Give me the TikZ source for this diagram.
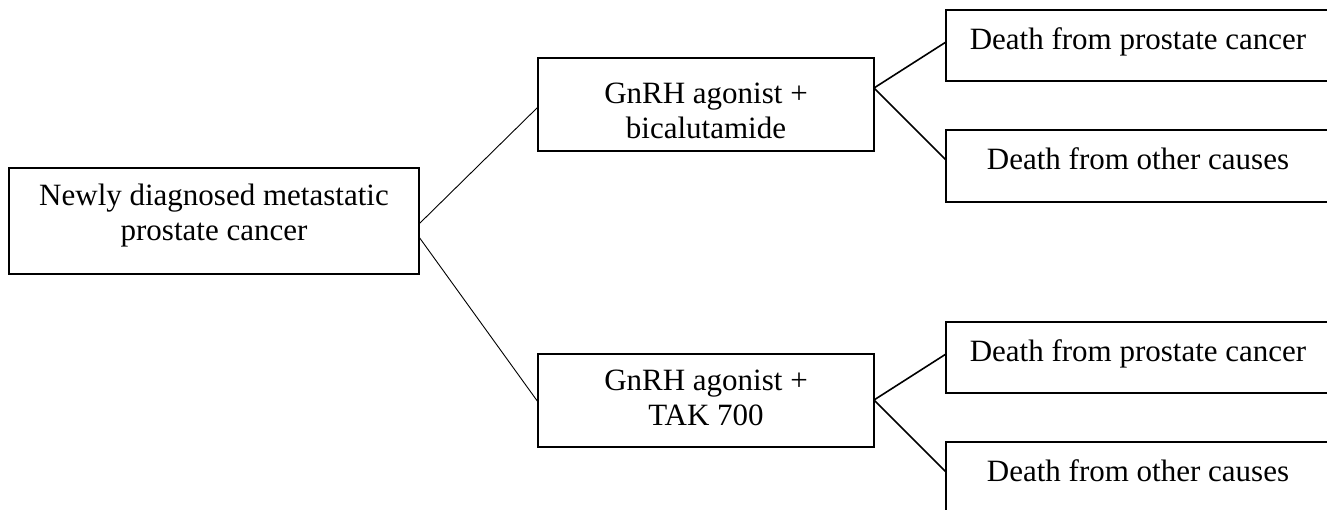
\documentclass[tikz,border=0pt]{standalone}
\usepackage{fontspec}
\setmainfont{Liberation Serif}
\usetikzlibrary{calc}
\tikzset{
  box/.style={draw=black, line width=1.8pt, inner sep=0pt, outer sep=0pt, fill=white},
  thinlink/.style={draw=black, line width=0.9pt},
  link/.style={draw=black, line width=1.6pt}
}
% \boxtext{width}{height}{top gap}{text}
\newcommand{\boxtext}[4]{\parbox[c][#2][t]{#1}{\centering\fontsize{31}{35}\selectfont\vspace*{#3}#4\par}}
\begin{document}
\begin{tikzpicture}[x=1pt,y=-1pt]
\useasboundingbox (0,0) rectangle (1327,510);
\clip (0,0) rectangle (1327,510);
% boxes (placed by north-west corner)
\node[box, anchor=north west] (root) at (9,168) {\boxtext{410pt}{106pt}{16pt}{Newly diagnosed metastatic\\prostate cancer}};
\node[box, anchor=north west] (m1) at (538,58) {\boxtext{336pt}{93pt}{25pt}{GnRH agonist +\\bicalutamide}};
\node[box, anchor=north west] (m2) at (538,354) {\boxtext{336pt}{93pt}{16pt}{GnRH agonist +\\TAK 700}};
\node[box, anchor=north west] (r1) at (946,10) {\boxtext{384pt}{71pt}{18pt}{Death from prostate cancer}};
\node[box, anchor=north west] (r2) at (946,130) {\boxtext{384pt}{72pt}{18pt}{Death from other causes}};
\node[box, anchor=north west] (r3) at (946,322) {\boxtext{384pt}{71pt}{18pt}{Death from prostate cancer}};
\node[box, anchor=north west] (r4) at (946,442) {\boxtext{384pt}{72pt}{18pt}{Death from other causes}};
% connectors
\draw[thinlink] ($(root.east)+(0,3)$) -- ($(m1.west)+(0,2.5)$);
\draw[thinlink] ($(root.east)+(0,16)$) -- ($(m2.west)+(0,1.5)$);
\draw[link] ($(m1.east)+(0,-16.5)$) -- ($(r1.west)+(0,-3.5)$);
\draw[link] ($(m1.east)+(0,-16.5)$) -- ($(r2.west)+(0,-6)$);
\draw[link] ($(m2.east)+(0,-0.5)$) -- ($(r3.west)+(0,-3.5)$);
\draw[link] ($(m2.east)+(0,-0.5)$) -- ($(r4.west)+(0,-6)$);
\end{tikzpicture}
\end{document}
